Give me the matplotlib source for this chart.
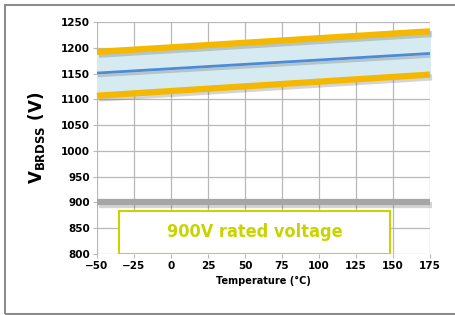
import matplotlib
matplotlib.use("Agg")
import matplotlib.pyplot as plt
import matplotlib.patheffects as pe
from matplotlib.patches import Rectangle

temp = [-50, 175]
v_max = [1192, 1232]
v_typ = [1151, 1189]
v_min = [1107, 1148]
rated = 900
xticks = list(range(-50, 176, 25))
yticks = list(range(800, 1251, 50))

fig = plt.figure(figsize=(4.55, 3.15), dpi=100)
# outer frame, right side runs off the picture
fig.patches.append(Rectangle((0.011, 0.004), 1.1, 0.98, transform=fig.transFigure,
                             fill=False, edgecolor="#8c8c8c", linewidth=1.5))

ax = fig.add_axes([0.213, 0.194, 0.732, 0.736])
ax.set_xlim(-50, 175)
ax.set_ylim(800, 1250)
ax.set_xticks(xticks)
ax.set_yticks(yticks)
ax.grid(True, color="#b8b8b8", linewidth=0.9)
ax.set_axisbelow(True)
for s in ax.spines.values():
    s.set_visible(False)
ax.tick_params(length=3, color="#b8b8b8", labelsize=7.5, pad=2)
for lab in ax.get_xticklabels() + ax.get_yticklabels():
    lab.set_fontweight("bold")

shadow = [pe.SimpleLineShadow(offset=(1.5, -2), alpha=0.25, shadow_color="#555555"), pe.Normal()]
ax.fill_between(temp, v_min, v_max, color="#d5ebf1", zorder=2)
ax.plot(temp, v_typ, color="#4f8ad6", linewidth=2, zorder=3, path_effects=shadow)
ax.plot(temp, v_max, color="#f5b800", linewidth=4.5, zorder=4, solid_capstyle="butt",
        path_effects=shadow, clip_on=False)
ax.plot(temp, v_min, color="#f5b800", linewidth=4.5, zorder=4, solid_capstyle="butt",
        path_effects=shadow, clip_on=False)
ax.plot(temp, [rated, rated], color="#a6a6a6", linewidth=4.5, zorder=4, solid_capstyle="butt",
        path_effects=shadow, clip_on=False)

ax.add_patch(Rectangle((-35, 800), 183, 83, facecolor="white", edgecolor="#c8d400",
                       linewidth=1.5, zorder=5))
ax.text(56.5, 842, "900V rated voltage", color="#c8d400", fontsize=13, fontweight="bold",
        fontstretch="condensed", ha="center", va="center", zorder=6)

ax.set_xlabel("Temperature (°C)", fontsize=7, fontweight="bold", labelpad=4)
ax.set_ylabel(r"V$_{\mathbf{BRDSS}}$ (V)", fontsize=12, fontweight="bold", labelpad=10)

fig.savefig("out.png", dpi=100)
